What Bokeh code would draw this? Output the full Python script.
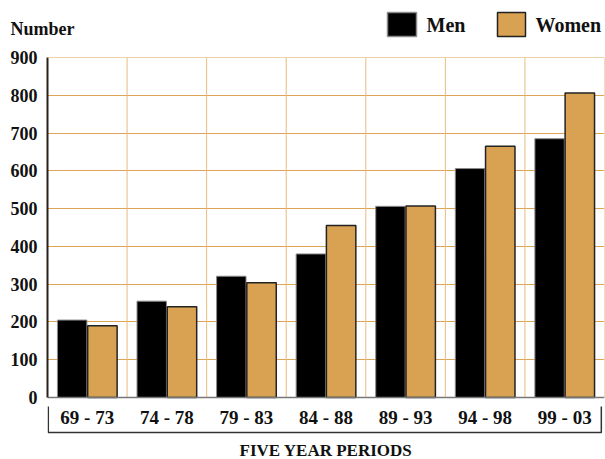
from bokeh.plotting import figure
from bokeh.layouts import column
from bokeh.models import ColumnDataSource, FactorRange, Range1d, FixedTicker, Span
from bokeh.core.properties import value
from bokeh.transform import dodge
from bokeh.embed import file_html
from bokeh.resources import INLINE

periods = ["69 - 73", "74 - 78", "79 - 83", "84 - 88", "89 - 93", "94 - 98", "99 - 03"]
men = [205, 255, 321, 380, 506, 606, 685]
women = [190, 240, 304, 455, 507, 665, 806]
y_ticks = [0, 100, 200, 300, 400, 500, 600, 700, 800, 900]
series = ["Men", "Women"]
y_title = "Number"
x_title = "FIVE YEAR PERIODS"

FONT = "Liberation Serif"
GOLD = "#D8A252"
GRID_H = "#DDA458"
GRID_V = "#E9BB7C"
TXT = "#111111"
n = len(periods)

# ---------- header: "Number" and the legend (pixel coordinates) ----------
HEAD_H = 49
ph = figure(width=605, height=HEAD_H, output_backend="svg", toolbar_location=None,
            x_range=Range1d(0, 605), y_range=Range1d(HEAD_H, 0),
            x_axis_type=None, y_axis_type=None, min_border=0)
try:
    ph.frame_align = False
except Exception:
    pass
ph.outline_line_color = None
ph.background_fill_color = "white"
ph.border_fill_color = "white"
ph.text(x=[10], y=[28], text=[y_title], text_font=value(FONT), text_font_size="18px",
        text_font_style="bold", text_color=TXT, text_baseline="alphabetic")
ph.rect(x=[401.5, 511], y=[24, 24], width=[29, 28], height=[24, 24],
        fill_color=["black", GOLD], line_color=["#8a8a8a", "#222222"], line_width=1.5)
ph.text(x=[426, 535], y=[24, 24], text=series, text_font=value(FONT), text_font_size="20px",
        text_font_style="bold", text_color=TXT, text_baseline="alphabetic")

# ---------- main chart ----------
MAIN_H = 459 - HEAD_H
TOP = 8                      # border above the frame
FRAME_H = MAIN_H - TOP       # frame reaches the bottom of the page
PLOT_PX = 340                # pixels used by 0..900
y_min = -y_ticks[-1] * (FRAME_H - PLOT_PX) / PLOT_PX
px = PLOT_PX / y_ticks[-1]   # pixels per unit

src = ColumnDataSource(dict(period=periods, men=men, women=women))

p = figure(width=605, height=MAIN_H, output_backend="svg", toolbar_location=None,
           x_range=FactorRange(*periods, range_padding=0),
           y_range=Range1d(y_min, y_ticks[-1]), x_axis_type=None,
           min_border_left=47, min_border_right=1, min_border_top=TOP, min_border_bottom=0)
try:
    p.frame_align = False
except Exception:
    pass
p.outline_line_color = None
p.background_fill_color = "white"
p.border_fill_color = "white"

# grid
p.ygrid.ticker = FixedTicker(ticks=y_ticks)
p.ygrid.grid_line_color = GRID_H
p.ygrid.grid_line_width = 1
p.add_layout(Span(location=y_ticks[-1], dimension="width", line_color=GRID_H, line_width=1))
p.segment(x0=dodge("period", 0.5, range=p.x_range), y0=0,
          x1=dodge("period", 0.5, range=p.x_range), y1=y_ticks[-1],
          source=src, line_color=GRID_V, line_width=1)

# bars
p.vbar(x=dodge("period", -0.19, range=p.x_range), top="men", width=0.37, source=src,
       fill_color="black", line_color="#8a8a8a", line_width=1)
p.vbar(x=dodge("period", 0.19, range=p.x_range), top="women", width=0.37, source=src,
       fill_color=GOLD, line_color="#222222", line_width=1.5)

# baseline
p.segment(x0=dodge("period", -0.5, range=p.x_range), y0=0,
          x1=dodge("period", 0.5, range=p.x_range), y1=0,
          source=src, line_color="#777777", line_width=1.5)

# y axis
ya = p.yaxis[0]
ya.ticker = FixedTicker(ticks=y_ticks)
ya.bounds = (y_ticks[0], y_ticks[-1])
ya.major_tick_line_color = None
ya.minor_tick_line_color = None
ya.major_tick_out = 0
ya.major_tick_in = 0
ya.axis_line_color = "#2b2118"
ya.axis_line_width = 2
ya.major_label_standoff = 10
ya.major_label_text_font = FONT
ya.major_label_text_font_size = "18px"
ya.major_label_text_font_style = "bold"
ya.major_label_text_color = TXT

# category labels under the bars
p.text(x="period", y=-20 / px, text="period", source=src,
       text_font=value(FONT), text_font_size="19px", text_font_style="bold",
       text_color=TXT, text_align="center", text_baseline="alphabetic")

# bracket round the category labels
xl, xr = 0.01, n - 0.04
yt, yb = -9 / px, -35 / px
p.line(x=[xl, xl, xr, xr], y=[yt, yb, yb, yt], line_color="#333333", line_width=1.5)

# x title
p.text(x=[n / 2], y=[-53 / px], text=[x_title],
       text_font=value(FONT), text_font_size="17px", text_font_style="bold",
       text_color=TXT, text_align="center", text_baseline="alphabetic")

layout = column(ph, p)
open("out.html", "w").write(file_html(layout, INLINE))
